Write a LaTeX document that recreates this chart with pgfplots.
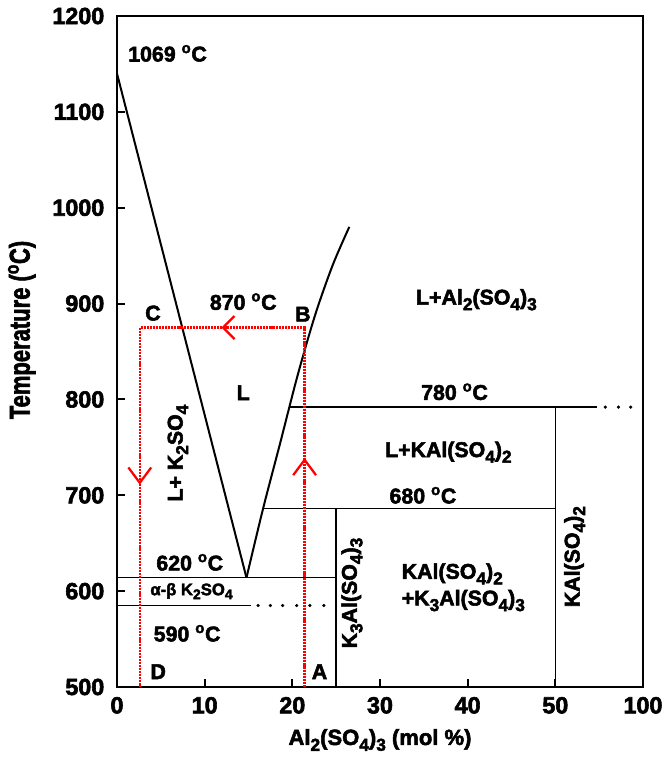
\documentclass[border=0pt]{standalone}
\usepackage{pgfplots}
\pgfplotsset{compat=1.18}
\usepackage{fontspec}
\setmainfont{Liberation Sans}[BoldFeatures={FakeBold=2.5}]
\newcommand\lab{\fontsize{16}{18}\selectfont\bfseries}
\newcommand\sub[1]{\raisebox{-0.5ex}{\fontsize{13}{13}\selectfont #1}}
\newcommand\dg{\textsuperscript{o}C}
\newcommand\tl[1]{\fontsize{17.5}{17.5}\selectfont\bfseries #1}
\tikzset{lb/.style={font=\lab, inner sep=1pt}}
\begin{document}
\begin{tikzpicture}
\useasboundingbox (-87.75pt,-52.5pt) rectangle (409.5pt,515.25pt);
\begin{axis}[
  at={(0pt,0pt)}, anchor=south west,
  width=394.5pt, height=503.25pt, scale only axis,
  xmin=0, xmax=60, ymin=500, ymax=1200,
  xtick={0,10,20,30,40,50,60},
  xticklabels={\tl{0},\tl{10},\tl{20},\tl{30},\tl{40},\tl{50},\tl{100}},
  ytick={500,600,700,800,900,1000,1100,1200},
  yticklabels={\tl{500},\tl{600},\tl{700},\tl{800},\tl{900},\tl{1000},\tl{1100},\tl{1200}},
  tick align=inside, xtick pos=bottom, ytick pos=left,
  major tick length=6pt,
  axis line style={line width=2pt},
  every tick/.style={black, line width=1.5pt},
  xticklabel style={yshift=-4pt},
  yticklabel style={xshift=-6pt},
  xlabel={\fontsize{16.5}{16.5}\selectfont\bfseries Al\sub{2}(SO\sub{4})\sub{3} (mol \%)},
  ylabel={\scalebox{1}[1.3]{\fontsize{16.5}{16.5}\selectfont\bfseries Temperature (\textsuperscript{o}C)}},
  xlabel style={at={(axis description cs:0.5,-0.079)}, anchor=center},
  ylabel style={at={(axis description cs:-0.181,0.532)}, anchor=center},
]
% liquidus
\addplot[black, line width=1.5pt] coordinates {(0,1140) (14.77,614)};
\addplot[black, line width=1.5pt, smooth] coordinates {(14.77,614) (16.66,686) (18.6,754) (20.6,825) (22.6,888) (24.6,940) (26.5,980)};
% horizontal lines
\addplot[black, line width=1.1pt] coordinates {(19.7,792) (54.8,792)};
\addplot[black, line width=1.1pt] coordinates {(16.66,686) (50,686)};
\addplot[black, line width=1.1pt] coordinates {(0,614) (25,614)};
\addplot[black, line width=1.1pt] coordinates {(0,585) (15.3,585)};
% verticals
\addplot[black, line width=1.1pt] coordinates {(50,500) (50,792)};
\addplot[black, line width=1.1pt] coordinates {(25,500) (25,686)};
% dots
\addplot[only marks, mark=*, mark size=1pt, black] coordinates {(55.7,792) (57.2,792) (58.6,792)};
\addplot[only marks, mark=*, mark size=1pt, black] coordinates {(16.1,585) (17.5,585) (18.9,585) (20.5,585) (22.0,585) (23.6,585)};
% red path
\addplot[red, line width=1.7pt, dash pattern=on 1.6pt off 0.7pt] coordinates {(21.4,500) (21.4,875) (2.6,875) (2.6,500)};
\addplot[red, line width=1.7pt] coordinates {(13.4,887) (12.1,875) (13.4,863)};
\addplot[red, line width=1.7pt] coordinates {(1.3,729) (2.6,713) (3.9,729)};
\addplot[red, line width=1.7pt] coordinates {(20.1,721) (21.4,737) (22.7,721)};
% labels
\node[lb, anchor=west] at (axis cs:1.1,1161) {1069 \dg};
\node[lb] at (axis cs:14.4,902) {870 \dg};
\node[lb] at (axis cs:4.1,890) {C};
\node[lb] at (axis cs:21.2,889) {B};
\node[lb] at (axis cs:14.4,807) {L};
\node[lb, rotate=90] at (axis cs:6.95,744) {L+ K\sub{2}SO\sub{4}};
\node[lb] at (axis cs:41.0,904) {L+Al\sub{2}(SO\sub{4})\sub{3}};
\node[lb] at (axis cs:38.5,808) {780 \dg};
\node[lb] at (axis cs:37.8,745) {L+KAl(SO\sub{4})\sub{2}};
\node[lb] at (axis cs:34.9,700) {680 \dg};
\node[lb, anchor=west, align=left] at (axis cs:32.3,604) {KAl(SO\sub{4})\sub{2}\\[2pt]+K\sub{3}Al(SO\sub{4})\sub{3}};
\node[lb, rotate=90] at (axis cs:52.2,636) {KAl(SO\sub{4})\sub{2}};
\node[lb, rotate=90] at (axis cs:26.8,598) {K\sub{3}Al(SO\sub{4})\sub{3}};
\node[lb] at (axis cs:8.3,630) {620 \dg};
\node[font=\fontsize{12.5}{12.5}\selectfont\bfseries, inner sep=1pt] at (axis cs:8.5,600) {α-β K\raisebox{-0.45ex}{\fontsize{10.5}{10.5}\selectfont 2}SO\raisebox{-0.45ex}{\fontsize{10.5}{10.5}\selectfont 4}};
\node[lb] at (axis cs:8.0,556) {590 \dg};
\node[lb] at (axis cs:4.7,516) {D};
\node[lb] at (axis cs:23.1,516) {A};
\end{axis}
\end{tikzpicture}
\end{document}
